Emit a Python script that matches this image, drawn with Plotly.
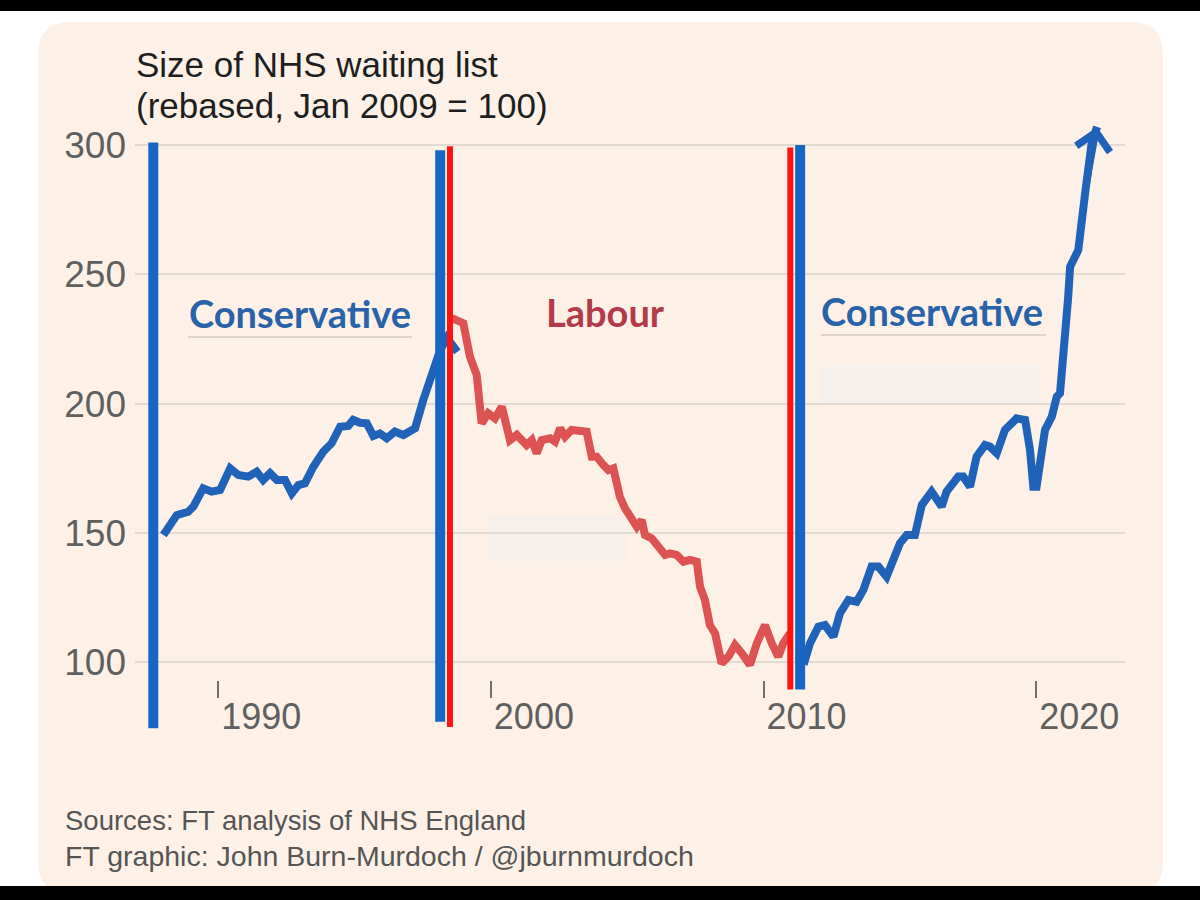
import plotly.graph_objects as go

# ---------------- data ----------------
con1_years = [1987.99, 1988.48, 1988.90, 1989.09, 1989.45, 1989.76, 1990.07, 1990.44, 1990.74,
              1991.10, 1991.41, 1991.65, 1991.90, 1992.15, 1992.45, 1992.70, 1992.94, 1993.18,
              1993.49, 1993.85, 1994.16, 1994.47, 1994.77, 1994.95, 1995.20, 1995.45, 1995.69,
              1995.93, 1996.18, 1996.48, 1996.79, 1997.22, 1997.52, 1997.77, 1997.95, 1998.14,
              1998.39, 1998.77]
con1_values = [149.2, 156.9, 158.2, 160.2, 167.3, 166.0, 166.6, 175.0, 172.4,
               171.8, 173.7, 170.5, 173.1, 170.5, 170.5, 165.3, 168.5, 169.2,
               175.6, 181.4, 184.7, 191.1, 191.4, 193.7, 192.6, 192.4, 187.5,
               188.5, 186.6, 189.2, 187.9, 190.5, 201.4, 208.5, 214.3, 220.7,
               225.4, 220.0]

lab_years = [1998.57, 1998.99, 1999.23, 1999.48, 1999.66, 1999.90, 2000.15, 2000.40, 2000.70,
             2000.95, 2001.31, 2001.50, 2001.68, 2001.86, 2002.17, 2002.35, 2002.54, 2002.72,
             2002.96, 2003.27, 2003.51, 2003.70, 2003.88, 2004.12, 2004.31, 2004.49, 2004.73,
             2004.92, 2005.16, 2005.35, 2005.53, 2005.65, 2005.90, 2006.14, 2006.39, 2006.57,
             2006.81, 2007.06, 2007.30, 2007.55, 2007.67, 2007.85, 2008.03, 2008.22, 2008.46,
             2008.71, 2008.95, 2009.20, 2009.50, 2009.75, 2010.05, 2010.30, 2010.54, 2010.72,
             2010.97]
lab_values = [233.1, 231.1, 218.2, 211.1, 192.4, 196.3, 194.3, 198.8, 185.9,
              187.9, 184.0, 185.9, 180.8, 185.9, 186.6, 185.3, 190.5, 187.2,
              189.8, 189.2, 189.2, 179.5, 179.5, 176.3, 174.3, 175.0, 164.0,
              159.5, 155.0, 152.4, 155.0, 149.2, 147.9, 144.7, 141.5, 142.1,
              141.5, 138.9, 139.6, 138.9, 129.2, 124.1, 114.4, 111.2, 99.6,
              102.2, 106.7, 103.5, 99.0, 107.3, 114.4, 107.3, 102.2, 107.3,
              111.2]

con2_years = [2011.22, 2011.52, 2011.70, 2012.01, 2012.25, 2012.56, 2012.80, 2013.11, 2013.41,
              2013.66, 2013.96, 2014.21, 2014.51, 2014.76, 2015.00, 2015.25, 2015.55, 2015.80,
              2016.16, 2016.53, 2016.71, 2017.14, 2017.32, 2017.57, 2017.81, 2018.12, 2018.30,
              2018.55, 2018.85, 2019.28, 2019.59, 2019.77, 2019.89, 2020.01, 2020.20, 2020.32,
              2020.57, 2020.75, 2020.87, 2021.05, 2021.17, 2021.24, 2021.54, 2021.79, 2022.03,
              2022.23]
con2_values = [102.8, 100.9, 107.3, 113.8, 114.4, 109.9, 118.9, 124.1, 123.4,
               128.0, 137.0, 137.0, 133.1, 139.6, 146.0, 149.2, 149.2, 160.8,
               166.0, 160.2, 166.0, 171.8, 171.8, 167.9, 179.5, 184.0, 183.4,
               180.8, 189.8, 194.3, 193.7, 182.1, 167.9, 167.9, 180.8, 189.8,
               195.0, 202.7, 204.0, 223.3, 241.3, 252.9, 259.4, 281.3, 300.7,
               307.0]

# hand-drawn government-change markers (year, party)
change_years = [1987.62, 1998.14, 1998.50, 2010.98, 2011.34]
change_party = ["Conservative", "Conservative", "Labour", "Labour", "Conservative"]
change_top = [301.0, 298.0, 299.5, 299.0, 300.0]
change_bottom = [74.5, 77.0, 75.0, 89.5, 89.5]

period_labels = ["Conservative", "Labour", "Conservative"]
period_label_x = [1993.0, 2004.22, 2016.18]
period_label_y = [235.0, 235.4, 235.8]

x_tick_vals = [1990, 2000, 2010, 2020]
x_tick_text = ["1990", "2000", "2010", "2020"]
y_tick_vals = [100, 150, 200, 250, 300]
y_tick_text = ["100", "150", "200", "250", "300"]

title_lines = ["Size of NHS waiting list", "(rebased, Jan 2009 = 100)"]
footer_lines = ["Sources: FT analysis of NHS England",
                "FT graphic: John Burn-Murdoch / @jburnmurdoch"]

# ---------------- styling ----------------
W, H = 1200, 900
BLUE_LINE = "#1f62b7"
RED_LINE = "#dd5252"
BAR_COL = {"Conservative": "#1766c4", "Labour": "#ff1212"}
BAR_W = {"Conservative": 10, "Labour": 6}
TEXT_COL = {"Conservative": "#2862a8", "Labour": "#b23a4a"}
CARD = "#fdf1e7"
GRID = "#e2d9d0"
SANS = "Liberation Sans, Arial, sans-serif"


def fx(p):
    return p / W


def fy(p):
    return 1 - p / H


fig = go.Figure()

fig.add_trace(go.Scatter(x=con1_years, y=con1_values, mode="lines",
                         line=dict(color=BLUE_LINE, width=8), hoverinfo="skip"))
fig.add_trace(go.Scatter(x=lab_years, y=lab_values, mode="lines",
                         line=dict(color=RED_LINE, width=8), hoverinfo="skip"))
fig.add_trace(go.Scatter(x=con2_years, y=con2_values, mode="lines",
                         line=dict(color=BLUE_LINE, width=8), hoverinfo="skip"))

for yr, party, top, bot in zip(change_years, change_party, change_top, change_bottom):
    fig.add_trace(go.Scatter(x=[yr, yr], y=[bot, top], mode="lines",
                             line=dict(color=BAR_COL[party], width=BAR_W[party]),
                             hoverinfo="skip"))

annotations = []
# arrow head at the end of the latest series
annotations.append(dict(x=con2_years[-1], y=con2_values[-1], xref="x", yref="y",
                        ax=con2_years[-3], ay=con2_values[-3], axref="x", ayref="y",
                        text="", showarrow=True, arrowhead=4, arrowsize=1.1,
                        arrowwidth=6, arrowcolor=BLUE_LINE))

for lab, lx, ly in zip(period_labels, period_label_x, period_label_y):
    annotations.append(dict(x=lx, y=ly, xref="x", yref="y", text="<b>%s</b>" % lab,
                            showarrow=False, xanchor="center", yanchor="middle",
                            font=dict(family="Lato, Liberation Sans, sans-serif",
                                      size=38, color=TEXT_COL[lab])))

title_y = [65, 105]
for t, ty in zip(title_lines, title_y):
    annotations.append(dict(x=fx(134), y=fy(ty), xref="paper", yref="paper", text=t,
                            showarrow=False, xanchor="left", yanchor="middle",
                            font=dict(family=SANS, size=35, color="#1e1e1e")))

footer_y = [820, 856]
footer_size = [27.5, 28.5]
for t, ty, fs in zip(footer_lines, footer_y, footer_size):
    annotations.append(dict(x=fx(63), y=fy(ty), xref="paper", yref="paper", text=t,
                            showarrow=False, xanchor="left", yanchor="middle",
                            font=dict(family=SANS, size=fs, color="#555555")))


def card_path(x0, y0, x1, y1, r):
    rx, ry = r / W, r / H
    X0, X1, Y0, Y1 = fx(x0), fx(x1), fy(y0), fy(y1)
    return (f"M{X0+rx},{Y0} L{X1-rx},{Y0} Q{X1},{Y0} {X1},{Y0-ry} "
            f"L{X1},{Y1+ry} Q{X1},{Y1} {X1-rx},{Y1} L{X0+rx},{Y1} "
            f"Q{X0},{Y1} {X0},{Y1+ry} L{X0},{Y0-ry} Q{X0},{Y0} {X0+rx},{Y0} Z")


shapes = [
    dict(type="path", xref="paper", yref="paper", path=card_path(38, 22, 1163, 894, 32),
         fillcolor=CARD, line=dict(width=0), layer="below"),
    # faint erased label patches
    dict(type="rect", xref="paper", yref="paper", x0=fx(820), x1=fx(1040), y0=fy(405), y1=fy(366),
         fillcolor="#f5f0eb", line=dict(width=0), layer="below"),
    dict(type="rect", xref="paper", yref="paper", x0=fx(488), x1=fx(626), y0=fy(562), y1=fy(517),
         fillcolor="#f7f0ea", line=dict(width=0), layer="below"),
    # label underlines
    dict(type="line", xref="paper", yref="paper", x0=fx(188), x1=fx(412), y0=fy(337), y1=fy(337),
         line=dict(color="#dcd3ca", width=2), layer="below"),
    dict(type="line", xref="paper", yref="paper", x0=fx(821), x1=fx(1046), y0=fy(335), y1=fy(335),
         line=dict(color="#dcd3ca", width=2), layer="below"),
    # black bars of the screenshot
    dict(type="rect", xref="paper", yref="paper", x0=0, x1=1, y0=fy(11), y1=1,
         fillcolor="#000000", line=dict(width=0), layer="above"),
    dict(type="rect", xref="paper", yref="paper", x0=0, x1=1, y0=0, y1=fy(886),
         fillcolor="#000000", line=dict(width=0), layer="above"),
]

fig.update_layout(
    width=W, height=H,
    margin=dict(l=0, r=0, t=0, b=0),
    paper_bgcolor="#ffffff",
    plot_bgcolor="rgba(0,0,0,0)",
    showlegend=False,
    shapes=shapes,
    annotations=annotations,
    xaxis=dict(domain=[fx(135), fx(1125)], range=[1986.949, 2023.253],
               anchor="free", position=fy(680),
               tickvals=x_tick_vals, ticktext=x_tick_text,
               ticks="outside", ticklen=17, tickwidth=2, tickcolor="#707070",
               ticklabelshift=43, ticklabelstandoff=-12,
               showgrid=False, zeroline=False, showline=False,
               tickfont=dict(family=SANS, size=36, color="#5f5f5f")),
    yaxis=dict(domain=[fy(735), fy(120)], range=[71.9, 309.66],
               tickvals=y_tick_vals, ticktext=y_tick_text,
               showgrid=True, gridcolor=GRID, gridwidth=2,
               zeroline=False, showline=False, ticks="",
               ticklabelstandoff=8,
               tickfont=dict(family=SANS, size=37, color="#5f5f5f")),
)

fig.write_html("out.html", config={"displayModeBar": False},
               post_script="document.body.style.margin='0';document.body.style.overflow='hidden';")
